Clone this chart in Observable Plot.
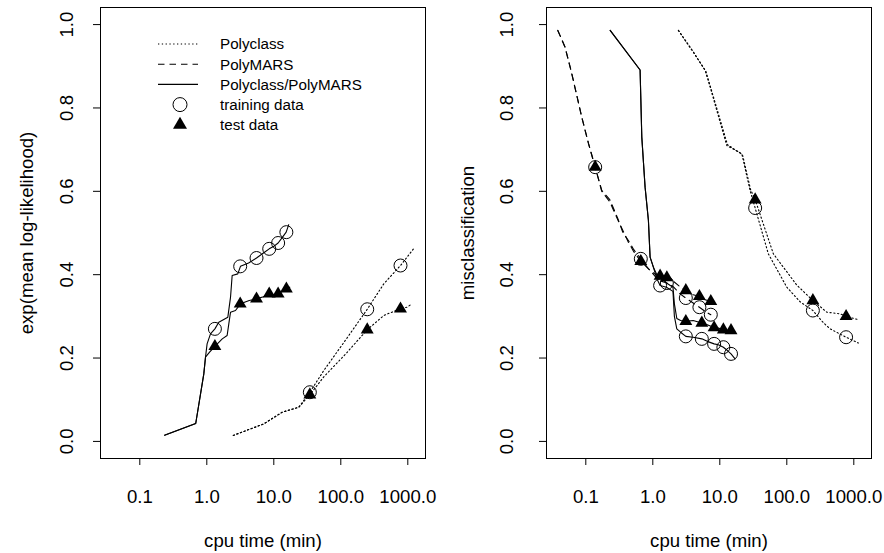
<!DOCTYPE html>
<html><head><meta charset="utf-8">
<script src="https://cdn.jsdelivr.net/npm/d3@7"></script>
<script src="https://cdn.jsdelivr.net/npm/@observablehq/plot@0.6"></script>
<style>
body{margin:0;background:#fff;}
#wrap{width:884px;height:553px;display:flex;font-family:"Liberation Sans",Arial,sans-serif;}
.panel{position:relative;width:442px;height:553px;}
.panel svg{display:block;}
</style></head><body><div id="wrap"><div class="panel" id="left"></div><div class="panel" id="right"></div></div>
<script>
// ---- axes ----
const xTicks = [0.1, 1, 10, 100, 1000];
const xTickLabels = ["0.1", "1.0", "10.0", "100.0", "1000.0"];
const yTicks = [0, 0.2, 0.4, 0.6, 0.8, 1.0];
const yTickLabels = ["0.0", "0.2", "0.4", "0.6", "0.8", "1.0"];
const xTitle = "cpu time (min)";
const leftYTitle = "exp(mean log-likelihood)";
const rightYTitle = "misclassification";
const legendLabels = ["Polyclass", "PolyMARS", "Polyclass/PolyMARS", "training data", "test data"];
const legendKinds = ["dotted", "dashed", "solid", "circle", "triangle"];

// ---- left panel: exp(mean log-likelihood) ----
const llHybTrainT = [0.234, 0.683, 0.902, 0.956, 1.01, 1.135, 1.32, 1.51, 2.06, 2.26, 2.39, 2.9, 3.18, 4.2, 5.52, 7.0, 8.54, 10.0, 11.6, 13.5, 15.3, 16.7];
const llHybTrainV = [0.015, 0.043, 0.162, 0.202, 0.234, 0.258, 0.27, 0.286, 0.298, 0.346, 0.398, 0.402, 0.42, 0.428, 0.44, 0.452, 0.462, 0.468, 0.476, 0.49, 0.502, 0.52];
const llHybTestT = [0.234, 0.683, 0.902, 0.956, 1.1, 1.32, 1.70, 2.01, 2.13, 2.26, 2.68, 3.18, 4.3, 5.52, 7.0, 8.54, 10.0, 11.6, 13.5, 15.5, 17.3];
const llHybTestV = [0.015, 0.043, 0.162, 0.202, 0.214, 0.228, 0.246, 0.254, 0.282, 0.31, 0.314, 0.33, 0.338, 0.342, 0.347, 0.354, 0.352, 0.354, 0.36, 0.366, 0.37];
const llPcTrainT = [2.48, 7.09, 13.3, 23.6, 34.5, 55.7, 120, 248, 438, 778, 1230];
const llPcTrainV = [0.0144, 0.042, 0.07, 0.082, 0.118, 0.17, 0.245, 0.317, 0.378, 0.422, 0.463];
const llPcTestT = [2.48, 7.09, 13.3, 23.6, 34.5, 55.7, 120, 248, 438, 760, 980, 1150];
const llPcTestV = [0.0144, 0.042, 0.07, 0.082, 0.112, 0.155, 0.211, 0.268, 0.302, 0.318, 0.322, 0.33];
const llHybMarkT = [1.32, 3.15, 5.52, 8.54, 11.6, 15.4];
const llHybTrainMarkV = [0.27, 0.42, 0.44, 0.462, 0.476, 0.502];
const llHybTestMarkV = [0.228, 0.33, 0.342, 0.354, 0.354, 0.366];
const llPcMarkT = [34.5, 248, 778];
const llPcTrainMarkV = [0.118, 0.317, 0.422];
const llPcTestMarkV = [0.112, 0.268, 0.318];

// ---- right panel: misclassification ----
const mcPmT = [0.0382, 0.049, 0.0618, 0.087, 0.11, 0.138, 0.173, 0.228, 0.30, 0.36, 0.432, 0.52, 0.662, 0.85, 1.1, 1.3, 1.62, 2.0, 2.5, 3.11, 4.0, 4.96, 6.0, 7.34];
const mcPmTrainV = [0.986, 0.946, 0.882, 0.778, 0.714, 0.658, 0.602, 0.58, 0.535, 0.50, 0.482, 0.46, 0.438, 0.415, 0.395, 0.385, 0.38, 0.372, 0.355, 0.344, 0.332, 0.322, 0.312, 0.304];
const mcPmTestV = [0.986, 0.946, 0.882, 0.778, 0.714, 0.658, 0.600, 0.575, 0.532, 0.505, 0.478, 0.455, 0.432, 0.415, 0.40, 0.395, 0.393, 0.385, 0.372, 0.362, 0.352, 0.348, 0.34, 0.336];
const mcHybT = [0.231, 0.646, 0.685, 0.767, 0.86, 0.911, 1.02, 1.15, 1.285, 1.6, 2.0, 2.1, 2.28, 2.6, 3.11, 4.0, 5.39, 6.5, 8.22, 9.5, 11.3, 13.0, 14.7, 16.9];
const mcHybTrainV = [0.986, 0.891, 0.73, 0.61, 0.53, 0.442, 0.418, 0.39, 0.374, 0.37, 0.36, 0.30, 0.27, 0.262, 0.252, 0.25, 0.246, 0.24, 0.234, 0.232, 0.226, 0.218, 0.21, 0.198];
const mcHybTestV = [0.986, 0.891, 0.73, 0.61, 0.53, 0.442, 0.418, 0.40, 0.397, 0.38, 0.37, 0.33, 0.295, 0.29, 0.288, 0.29, 0.284, 0.28, 0.273, 0.272, 0.268, 0.265, 0.266, 0.262];
const mcPcTrainT = [2.41, 4.0, 6.03, 7.18, 12.7, 21.3, 28.3, 33.7, 53, 100, 158, 245, 350, 443, 767, 1172];
const mcPcTrainV = [0.986, 0.935, 0.89, 0.85, 0.71, 0.69, 0.602, 0.56, 0.45, 0.37, 0.335, 0.314, 0.285, 0.27, 0.25, 0.236];
const mcPcTestT = [2.41, 4.1, 6.2, 7.4, 13.0, 21.8, 28.8, 33.7, 63, 141, 245, 395, 625, 767, 1172];
const mcPcTestV = [0.986, 0.932, 0.888, 0.846, 0.712, 0.688, 0.604, 0.58, 0.45, 0.375, 0.338, 0.31, 0.306, 0.30, 0.292];
const mcPcMarkT = [33.7, 245, 767];
const mcPcTrainMarkV = [0.56, 0.314, 0.25];
const mcPcTestMarkV = [0.58, 0.338, 0.30];
const mcPmMarkT = [0.138, 0.662, 1.62, 3.11, 4.96, 7.34];
const mcPmTrainMarkV = [0.658, 0.438, 0.38, 0.344, 0.322, 0.304];
const mcPmTestMarkV = [0.658, 0.432, 0.393, 0.362, 0.348, 0.336];
const mcHybMarkT = [1.285, 3.11, 5.39, 8.22, 11.3, 14.7];
const mcHybTrainMarkV = [0.374, 0.252, 0.246, 0.234, 0.226, 0.21];
const mcHybTestMarkV = [0.397, 0.288, 0.284, 0.273, 0.268, 0.266];

// ---- helpers ----
const zip = (ts, vs, key) => ts.map((t, i) => ({t, v: vs[i], key}));
const DASH = {dotted: "1.3 2.5", dashed: "6.5 5", solid: null};
const FONT = "'Liberation Sans', Arial, Helvetica, sans-serif";

function panel({lines, circles, triangles, yTitle, marginLeft, marginRight, tickDx, titleDx}) {
  const marks = [
    Plot.frame({stroke: "black", strokeWidth: 1}),
    Plot.axisX({ticks: xTicks, tickSize: 7, tickPadding: 24, label: null,
      tickFormat: d => xTickLabels[xTicks.indexOf(d)], fontSize: 18.6}),
    Plot.axisY({ticks: yTicks, tickSize: 7, label: null, tickFormat: () => ""}),
    Plot.text(yTicks, {y: d => d, text: (d, i) => yTickLabels[i], frameAnchor: "left",
      rotate: -90, lineAnchor: "bottom", textAnchor: "middle", dx: tickDx, fontSize: 18.6}),
    Plot.text([xTitle], {text: d => d, frameAnchor: "bottom", lineAnchor: "bottom", dy: 88, fontSize: 18.6}),
    Plot.text([yTitle], {text: d => d, frameAnchor: "left", rotate: -90, lineAnchor: "bottom",
      textAnchor: "middle", dx: titleDx, fontSize: 18.6})
  ];
  for (const [style, data] of lines) {
    marks.push(Plot.line(data, {x: "t", y: "v", z: "key", stroke: "black", strokeWidth: 1.1,
      strokeDasharray: DASH[style], curve: "linear"}));
  }
  marks.push(Plot.dot(circles, {x: "t", y: "v", r: 6.5, stroke: "black", strokeWidth: 1, fill: "none"}));
  marks.push(Plot.dot(triangles, {x: "t", y: "v", r: 4.8, symbol: "triangle", fill: "black", stroke: "none"}));
  return Plot.plot({
    width: 442, height: 553,
    marginLeft, marginRight, marginTop: 7, marginBottom: 95,
    x: {type: "log", domain: [0.0259, 1837]},
    y: {domain: [-0.041, 1.041]},
    style: {fontFamily: FONT, fontSize: "18.6px", color: "black", background: "white", overflow: "visible"},
    marks
  });
}

const left = panel({
  lines: [
    ["solid", [...zip(llHybTrainT, llHybTrainV, "train"), ...zip(llHybTestT, llHybTestV, "test")]],
    ["dotted", [...zip(llPcTrainT, llPcTrainV, "train"), ...zip(llPcTestT, llPcTestV, "test")]]
  ],
  circles: [...zip(llHybMarkT, llHybTrainMarkV), ...zip(llPcMarkT, llPcTrainMarkV)],
  triangles: [...zip(llHybMarkT, llHybTestMarkV), ...zip(llPcMarkT, llPcTestMarkV)],
  yTitle: leftYTitle, marginLeft: 100, marginRight: 17, tickDx: -28, titleDx: -68
});
document.getElementById("left").appendChild(left);

const right = panel({
  lines: [
    ["dashed", [...zip(mcPmT, mcPmTrainV, "train"), ...zip(mcPmT, mcPmTestV, "test")]],
    ["solid", [...zip(mcHybT, mcHybTrainV, "train"), ...zip(mcHybT, mcHybTestV, "test")]],
    ["dotted", [...zip(mcPcTrainT, mcPcTrainV, "train"), ...zip(mcPcTestT, mcPcTestV, "test")]]
  ],
  circles: [...zip(mcPmMarkT, mcPmTrainMarkV), ...zip(mcHybMarkT, mcHybTrainMarkV), ...zip(mcPcMarkT, mcPcTrainMarkV)],
  triangles: [...zip(mcPmMarkT, mcPmTestMarkV), ...zip(mcHybMarkT, mcHybTestMarkV), ...zip(mcPcMarkT, mcPcTestMarkV)],
  yTitle: rightYTitle, marginLeft: 104, marginRight: 13, tickDx: -34, titleDx: -73
});
document.getElementById("right").appendChild(right);

// ---- legend (inside left panel) ----
const lg = d3.select("#left").append("svg")
  .attr("width", 442).attr("height", 553)
  .style("position", "absolute").style("left", "0px").style("top", "0px")
  .style("pointer-events", "none");
legendLabels.forEach((label, i) => {
  const cy = 44 + 20.2 * i;
  const kind = legendKinds[i];
  if (kind === "circle") {
    lg.append("circle").attr("cx", 180).attr("cy", cy).attr("r", 7).attr("fill", "none").attr("stroke", "black");
  } else if (kind === "triangle") {
    lg.append("path").attr("d", d3.symbol(d3.symbolTriangle, 85)()).attr("transform", `translate(180,${cy})`).attr("fill", "black");
  } else {
    const ln = lg.append("line").attr("x1", 158).attr("x2", 198).attr("y1", cy).attr("y2", cy)
      .attr("stroke", "black").attr("stroke-width", 1.1);
    if (DASH[kind]) ln.attr("stroke-dasharray", DASH[kind]);
  }
  lg.append("text").attr("x", 220).attr("y", cy + 5.3).attr("font-family", FONT).attr("font-size", 15.2)
    .attr("fill", "black").text(label);
});
</script></body></html>
